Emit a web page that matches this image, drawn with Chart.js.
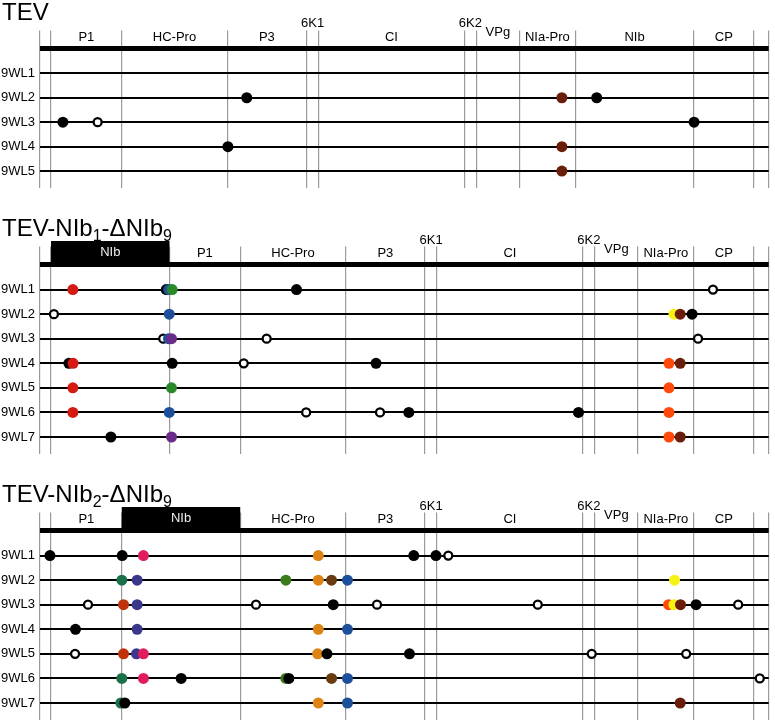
<!DOCTYPE html>
<html>
<head>
<meta charset="utf-8">
<script src="https://cdn.jsdelivr.net/npm/chart.js@4.4.1/dist/chart.umd.min.js"></script>
<style>
  body { margin: 0; background: #fff; }
  #page { position: relative; width: 775px; height: 722px; overflow: hidden; font-family: "Liberation Sans", Arial, sans-serif; }
  #page canvas { position: absolute; left: 0; }
  .title { position: absolute; left: 2px; font-size: 24px; line-height: 24px; color: #000; white-space: nowrap; z-index: 2; }
  .title sub { font-size: 16px; line-height: 0; vertical-align: -5px; }
</style>
</head>
<body>
<div id="page">
  <canvas id="mapTev" width="775" height="208" style="top:0px"></canvas>
  <canvas id="mapNib1" width="775" height="264" style="top:210px"></canvas>
  <canvas id="mapNib2" width="775" height="264" style="top:476px"></canvas>
  <div class="title" style="top:0px">TEV</div>
  <div class="title" style="top:216px">TEV-NIb<sub>1</sub>-ΔNIb<sub>9</sub></div>
  <div class="title" style="top:482px">TEV-NIb<sub>2</sub>-ΔNIb<sub>9</sub></div>
</div>
<script>
// genome map (nt)
const geneNames   = ['5UTR', 'P1', 'HC-Pro', 'P3', '6K1', 'CI', '6K2', 'VPg', 'NIa-Pro', 'NIb', 'CP', '3UTR'];
const geneLengths = [144, 924, 1377, 1038, 156, 1905, 156, 564, 729, 1548, 786, 193];

const tevOrder  = geneNames;
const nib1Order = ['5UTR', 'NIb', 'P1', 'HC-Pro', 'P3', '6K1', 'CI', '6K2', 'VPg', 'NIa-Pro', 'CP', '3UTR'];
const nib2Order = ['5UTR', 'P1', 'NIb', 'HC-Pro', 'P3', '6K1', 'CI', '6K2', 'VPg', 'NIa-Pro', 'CP', '3UTR'];

const tevLines = ['9WL1', '9WL2', '9WL3', '9WL4', '9WL5'];
const nibLines = ['9WL1', '9WL2', '9WL3', '9WL4', '9WL5', '9WL6', '9WL7'];

// [line, position (nt), kind]
const tevMutations = [
    ['9WL2', 2701, 'black'], ['9WL2', 6818, 'nia'], ['9WL2', 7273, 'black'],
    ['9WL3', 299, 'black'], ['9WL3', 753, 'open'], ['9WL3', 8545, 'black'],
    ['9WL4', 2455, 'black'], ['9WL4', 6818, 'nia'],
    ['9WL5', 6818, 'nia']
];

const nib1Mutations = [
    ['9WL1', 429, 'red'], ['9WL1', 1649, 'black'], ['9WL1', 1682, 'blue'], ['9WL1', 1727, 'green'],
    ['9WL1', 3351, 'black'], ['9WL1', 8792, 'open'],
    ['9WL2', 182, 'open'], ['9WL2', 1688, 'blue'], ['9WL2', 8282, 'yellow'], ['9WL2', 8364, 'nia'], ['9WL2', 8519, 'black'],
    ['9WL3', 1610, 'open'], ['9WL3', 1679, 'blue'], ['9WL3', 1718, 'purple'], ['9WL3', 2961, 'open'], ['9WL3', 8597, 'open'],
    ['9WL4', 377, 'black'], ['9WL4', 432, 'red'], ['9WL4', 1727, 'black'], ['9WL4', 2662, 'open'],
    ['9WL4', 4390, 'black'], ['9WL4', 8217, 'orangered'], ['9WL4', 8364, 'nia'],
    ['9WL5', 429, 'red'], ['9WL5', 1718, 'green'], ['9WL5', 8217, 'orangered'],
    ['9WL6', 429, 'red'], ['9WL6', 1688, 'blue'], ['9WL6', 3477, 'open'], ['9WL6', 4442, 'open'],
    ['9WL6', 4818, 'black'], ['9WL6', 7035, 'black'], ['9WL6', 8217, 'orangered'],
    ['9WL7', 926, 'black'], ['9WL7', 1718, 'purple'], ['9WL7', 8217, 'orangered'], ['9WL7', 8364, 'nia']
];

const nib2Mutations = [
    ['9WL1', 130, 'black'], ['9WL1', 1074, 'black'], ['9WL1', 1351, 'pink'], ['9WL1', 3636, 'orange'],
    ['9WL1', 4883, 'black'], ['9WL1', 5173, 'black'], ['9WL1', 5334, 'open'],
    ['9WL2', 1069, 'dkgreen'], ['9WL2', 1269, 'indigo'], ['9WL2', 3212, 'olive'], ['9WL2', 3636, 'orange'],
    ['9WL2', 3809, 'brown'], ['9WL2', 4017, 'blue'], ['9WL2', 8290, 'yellow'],
    ['9WL3', 627, 'open'], ['9WL3', 1091, 'rust'], ['9WL3', 1269, 'indigo'], ['9WL3', 2822, 'open'],
    ['9WL3', 3831, 'black'], ['9WL3', 4403, 'open'], ['9WL3', 6503, 'open'], ['9WL3', 8212, 'orangered'],
    ['9WL3', 8282, 'yellow'], ['9WL3', 8368, 'nia'], ['9WL3', 8571, 'black'], ['9WL3', 9121, 'open'],
    ['9WL4', 464, 'black'], ['9WL4', 1269, 'indigo'], ['9WL4', 3636, 'orange'], ['9WL4', 4017, 'blue'],
    ['9WL5', 458, 'open'], ['9WL5', 1091, 'rust'], ['9WL5', 1260, 'indigo'], ['9WL5', 1351, 'pink'],
    ['9WL5', 3627, 'orange'], ['9WL5', 3749, 'black'], ['9WL5', 4827, 'black'], ['9WL5', 7208, 'open'], ['9WL5', 8442, 'open'],
    ['9WL6', 1069, 'dkgreen'], ['9WL6', 1351, 'pink'], ['9WL6', 1844, 'black'], ['9WL6', 3212, 'olive'],
    ['9WL6', 3251, 'black'], ['9WL6', 3809, 'brown'], ['9WL6', 4017, 'blue'], ['9WL6', 9403, 'open'],
    ['9WL7', 1056, 'dkgreen'], ['9WL7', 1108, 'black'], ['9WL7', 3636, 'orange'], ['9WL7', 4017, 'blue'], ['9WL7', 8364, 'nia']
];

const markColors = {
    black: '#000000', nia: '#6b1d0b', red: '#d51a14', green: '#2a8a2a', blue: '#1d4f9b',
    purple: '#6b2b8b', yellow: '#f5f214', orangered: '#ff4a0c', dkgreen: '#1b7149', indigo: '#3b388c',
    pink: '#e01c5c', rust: '#c0320c', orange: '#dd8414', brown: '#6a3c12', olive: '#3b7b1b', open: '#ffffff'
};
const raisedLabels = { '6K1': 25, '6K2': 25, 'VPg': 16 };
const FONT = '"Liberation Sans", Arial, sans-serif';

Chart.defaults.font.family = FONT;

function geneLength(name) {
    return geneLengths[geneNames.indexOf(name)];
}

function boundaries(order) {
    let pos = 0;
    const out = [0];
    order.forEach(g => { pos += geneLength(g); out.push(pos); });
    return out;
}

// gene names above the genome line, moved NIb as black box
const genomeLabels = {
    id: 'genomeLabels',
    afterDraw(chart, args, opts) {
        const ctx = chart.ctx, xs = chart.scales.x, ys = chart.scales.y;
        const gy = ys.getPixelForValue(0);
        let start = 0;
        ctx.save();
        ctx.font = '13px ' + FONT;
        ctx.textAlign = 'center';
        ctx.textBaseline = 'middle';
        opts.order.forEach(name => {
            const len = geneLength(name);
            const x0 = xs.getPixelForValue(start), x1 = xs.getPixelForValue(start + len);
            start += len;
            if (name.indexOf('UTR') >= 0) return;
            const cx = (x0 + x1) / 2;
            if (name === opts.moved) {
                ctx.fillStyle = '#000';
                ctx.fillRect(x0, gy - 24, x1 - x0, 24);
                ctx.fillStyle = '#eeeeee';
                ctx.fillText(name, cx, gy - 12.5);
            } else {
                ctx.fillStyle = '#000';
                ctx.fillText(name, cx, gy - (raisedLabels[name] || 11.5));
            }
        });
        ctx.restore();
    }
};

function makeMap(id, order, lines, mutations, moved, padTop, padBottom) {
    const points = mutations.map(m => ({ x: m[1], y: lines.indexOf(m[0]) + 1, k: m[2] }));
    const ticksX = boundaries(order);
    return new Chart(document.getElementById(id), {
        type: 'scatter',
        data: {
            datasets: [{
                data: points,
                pointRadius: c => c.raw.k === 'open' ? 4 : 5.5,
                pointBackgroundColor: c => markColors[c.raw.k],
                pointBorderColor: '#000',
                pointBorderWidth: c => c.raw.k === 'open' ? 2.3 : 0,
                pointHoverRadius: c => c.raw.k === 'open' ? 4 : 5.5
            }]
        },
        options: {
            responsive: false,
            animation: false,
            devicePixelRatio: 1,
            events: [],
            layout: { padding: { top: padTop, bottom: padBottom, left: 0, right: 2 } },
            plugins: {
                legend: { display: false },
                tooltip: { enabled: false },
                genomeLabels: { order: order, moved: moved }
            },
            scales: {
                x: {
                    type: 'linear',
                    min: 0,
                    max: ticksX[ticksX.length - 1],
                    afterBuildTicks: s => { s.ticks = ticksX.map(v => ({ value: v })); },
                    afterFit: s => { s.height = 0; },
                    ticks: { display: false },
                    border: { display: false },
                    grid: { color: '#9a9a9a', lineWidth: 1.2, drawTicks: false, z: -2 }
                },
                y: {
                    type: 'linear',
                    reverse: true,
                    min: -0.75,
                    max: lines.length + 0.7,
                    afterBuildTicks: s => { s.ticks = [0].concat(lines.map((l, i) => i + 1)).map(v => ({ value: v })); },
                    afterFit: s => { s.width = 40; },
                    ticks: {
                        autoSkip: false,
                        padding: 5,
                        color: '#000',
                        font: { size: 13 },
                        callback: v => v === 0 ? '' : lines[v - 1]
                    },
                    border: { display: false },
                    grid: {
                        color: '#000',
                        lineWidth: c => (c.tick && c.tick.value === 0) ? 5 : 2,
                        drawTicks: false,
                        z: -1
                    }
                }
            }
        },
        plugins: [genomeLabels]
    });
}

makeMap('mapTev', tevOrder, tevLines, tevMutations, null, 30.5, 19.8);
makeMap('mapNib1', nib1Order, nibLines, nib1Mutations, 'NIb', 36.57, 19.8);
makeMap('mapNib2', nib2Order, nibLines, nib2Mutations, 'NIb', 36.57, 19.8);
</script>
</body>
</html>
